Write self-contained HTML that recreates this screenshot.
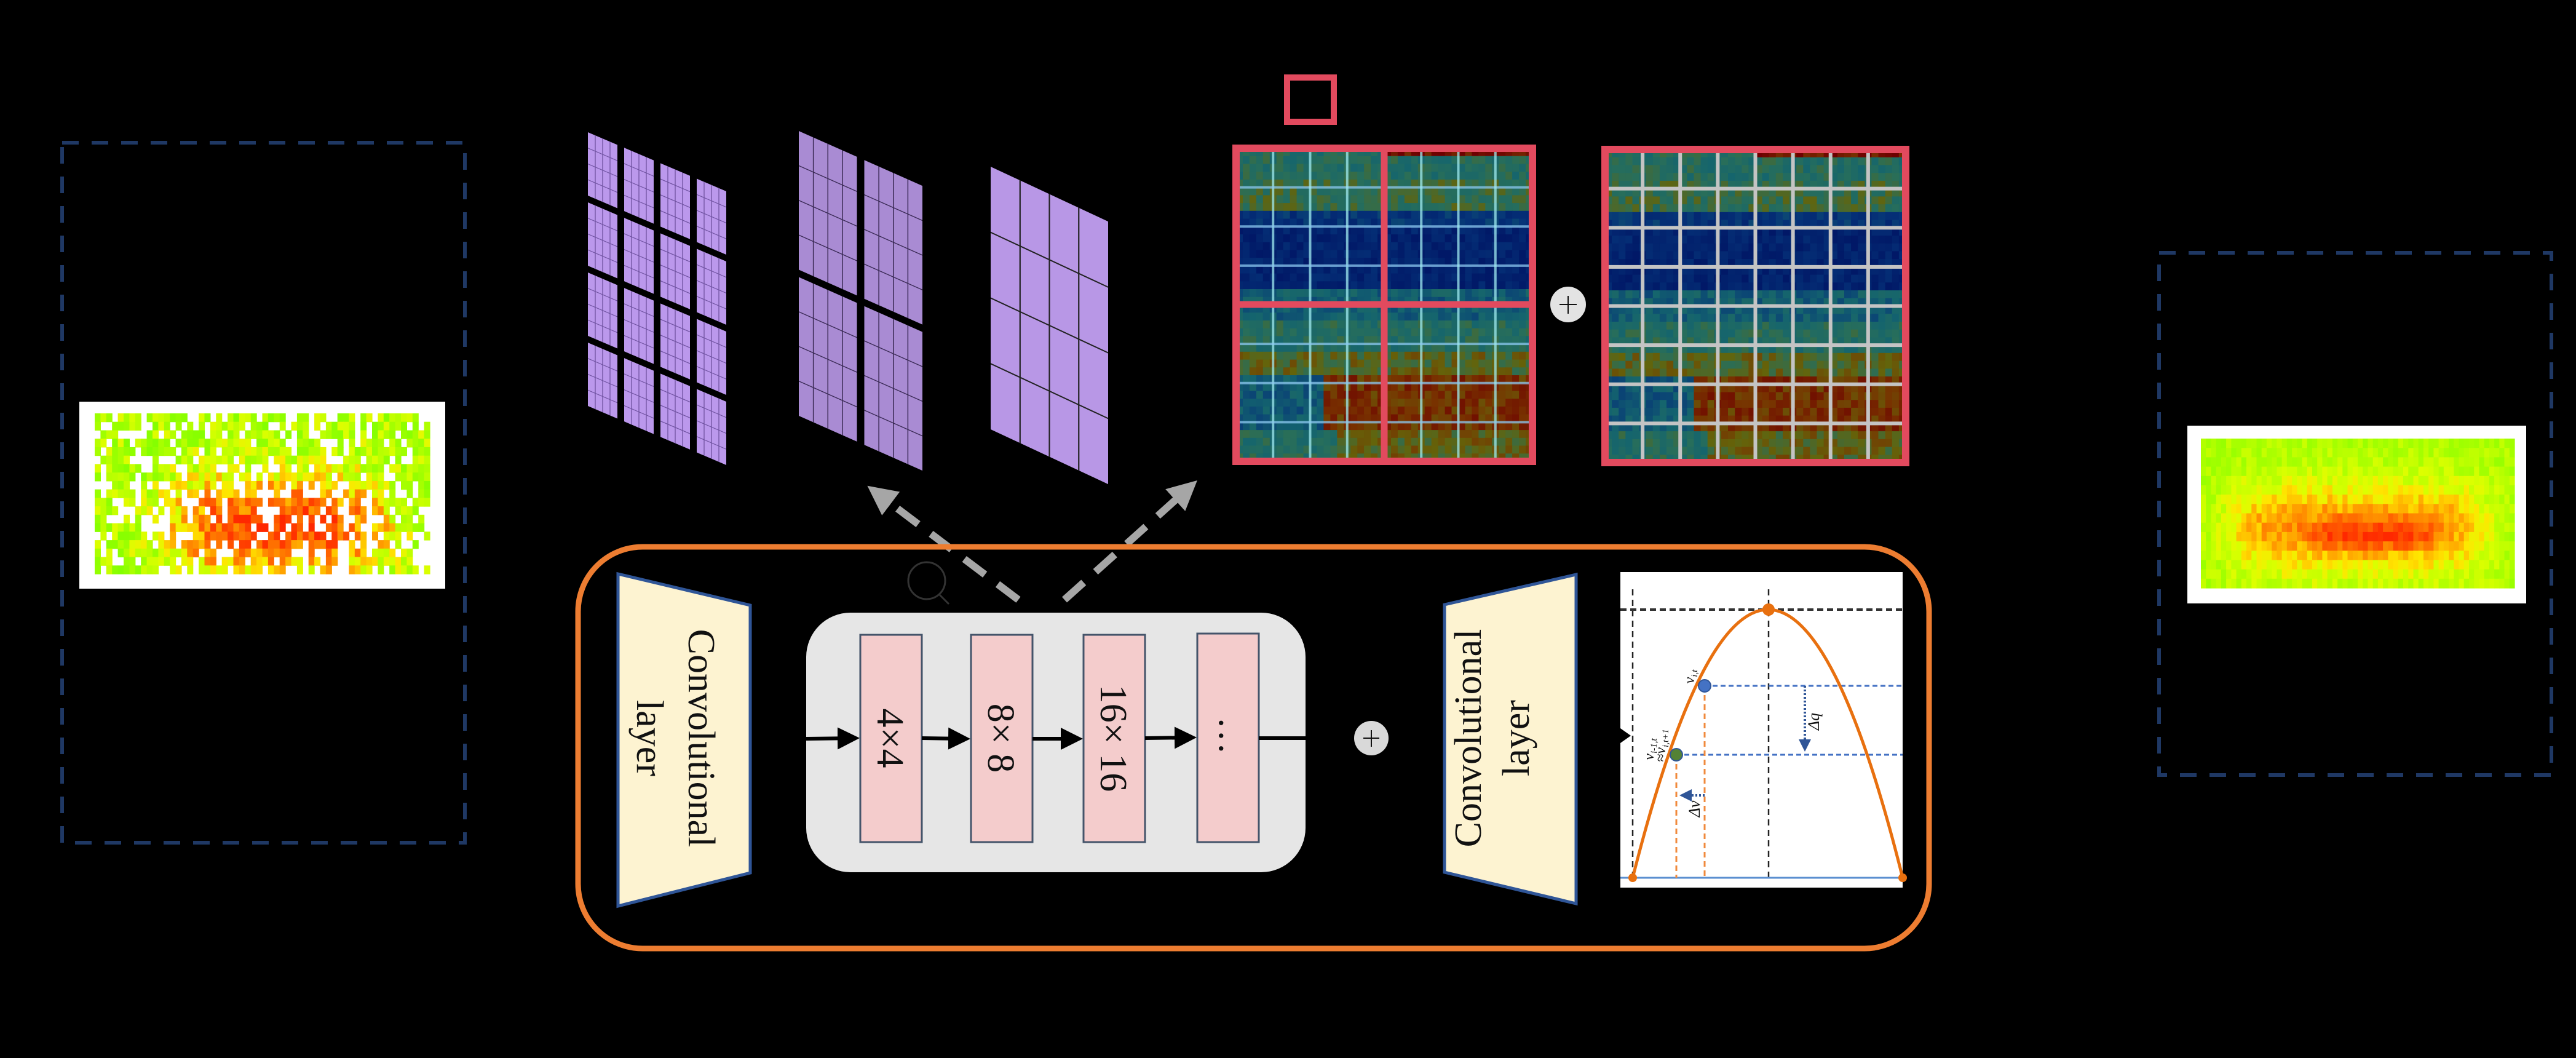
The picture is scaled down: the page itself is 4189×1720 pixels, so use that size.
<!DOCTYPE html>
<html><head><meta charset="utf-8"><style>
html,body{margin:0;padding:0;background:#000;}
svg{display:block;}
text{font-family:"Liberation Serif",serif;}
</style></head><body>
<svg id="s" width="4189" height="1720" viewBox="0 0 4189 1720" xmlns="http://www.w3.org/2000/svg">
<defs>
<marker id="ab" markerWidth="6" markerHeight="6" refX="5" refY="3" orient="auto" markerUnits="strokeWidth"><path d="M0,0 L6,3 L0,6 z" fill="#000"/></marker>
<marker id="ag" markerWidth="4" markerHeight="4" refX="3" refY="2" orient="auto" markerUnits="strokeWidth"><path d="M0,0 L4,2 L0,4 z" fill="#a6a6a6"/></marker>
<marker id="abl" markerWidth="5" markerHeight="5" refX="4" refY="2.5" orient="auto" markerUnits="strokeWidth"><path d="M0,0 L5,2.5 L0,5 z" fill="#2f5597"/></marker>
</defs>
<rect width="4189" height="1720" fill="#000"/>

<rect x="101" y="232" width="655" height="1138" fill="none" stroke="#1f3864" stroke-width="6" stroke-dasharray="27 21"/>
<rect x="3511" y="411" width="638" height="849" fill="none" stroke="#1f3864" stroke-width="6" stroke-dasharray="27 21"/>

<rect x="129" y="653" width="595" height="304" fill="#fff"/>
<g id="hmL"></g>
<rect x="3557" y="692" width="551" height="289" fill="#fff"/>
<g id="hmR"></g>

<g id="fm1" transform="translate(956,215) skewY(23.1)"></g>
<g id="fm2" transform="translate(1299,213) skewY(23.9)"></g>
<g id="fm3" transform="translate(1611,271) skewY(25)"></g>

<rect x="2093" y="126" width="76" height="72" fill="none" stroke="#e24a5e" stroke-width="10"/>

<g id="hmA"></g>
<g id="hmB"></g>
<g id="gridA"></g>
<g id="gridB"></g>
<rect x="2010" y="241" width="482" height="509" fill="none" stroke="#e24a5e" stroke-width="12"/>
<line x1="2251" y1="241" x2="2251" y2="750" stroke="#e24a5e" stroke-width="11"/>
<line x1="2010" y1="495" x2="2492" y2="495" stroke="#e24a5e" stroke-width="11"/>
<rect x="2610" y="243" width="489" height="509" fill="none" stroke="#e24a5e" stroke-width="12"/>
<ellipse cx="2550" cy="495" rx="29" ry="29" fill="#e3e3e3"/>
<line x1="2536" y1="495" x2="2564" y2="495" stroke="#111" stroke-width="2"/>
<line x1="2550" y1="481" x2="2550" y2="510" stroke="#111" stroke-width="2"/>

<line x1="1656" y1="975" x2="1420" y2="797" stroke="#a6a6a6" stroke-width="12" stroke-dasharray="42 26" marker-end="url(#ag)"/>
<line x1="1731" y1="975" x2="1938" y2="789" stroke="#a6a6a6" stroke-width="12" stroke-dasharray="42 26" marker-end="url(#ag)"/>
<circle cx="1507" cy="944" r="30" fill="none" stroke="#333" stroke-width="3"/>
<line x1="1527" y1="966" x2="1543" y2="982" stroke="#333" stroke-width="3"/>

<rect x="940" y="889" width="2197" height="653" rx="105" ry="105" fill="none" stroke="#ed7d31" stroke-width="9"/>

<polygon points="1005,933 1220,984 1220,1419 1005,1473" fill="#fdf3d1" stroke="#2f5597" stroke-width="5"/>
<g transform="translate(1100,1200) rotate(90)" font-size="62" text-anchor="middle" fill="#111">
<text x="0" y="-20">Convolutional</text>
<text x="0" y="64">layer</text>
</g>

<rect x="1311" y="996" width="812" height="422" rx="72" ry="72" fill="#e6e6e6"/>
<g fill="#f4cccc" stroke="#44546a" stroke-width="3">
<rect x="1399" y="1032" width="100" height="337"/>
<rect x="1579" y="1032" width="100" height="337"/>
<rect x="1762" y="1032" width="100" height="337"/>
<rect x="1947" y="1030" width="100" height="339"/>
</g>
<g stroke="#000" stroke-width="6">
<line x1="1311" y1="1201" x2="1392" y2="1200" marker-end="url(#ab)"/>
<line x1="1499" y1="1200" x2="1572" y2="1201" marker-end="url(#ab)"/>
<line x1="1679" y1="1201" x2="1755" y2="1201" marker-end="url(#ab)"/>
<line x1="1862" y1="1200" x2="1940" y2="1199" marker-end="url(#ab)"/>
<line x1="2047" y1="1200" x2="2123" y2="1200"/>
</g>
<g font-size="62" text-anchor="middle" fill="#111">
<text transform="translate(1449,1200) rotate(90)" y="22">4×4</text>
<text transform="translate(1629,1200) rotate(90)" y="22">8× 8</text>
<text transform="translate(1812,1200) rotate(90)" y="22">16× 16</text>
<text transform="translate(1997,1196) rotate(90)" y="14">…</text>
</g>
<ellipse cx="2230" cy="1200" rx="28" ry="28" fill="#d9d9d9"/>
<line x1="2217" y1="1200" x2="2243" y2="1200" stroke="#111" stroke-width="2"/>
<line x1="2230" y1="1187" x2="2230" y2="1214" stroke="#111" stroke-width="2"/>

<polygon points="2349,983 2563,934 2563,1469 2349,1418" fill="#fdf3d1" stroke="#2f5597" stroke-width="5"/>
<g transform="translate(2426,1200) rotate(-90)" font-size="62" text-anchor="middle" fill="#111">
<text x="0" y="-18">Convolutional</text>
<text x="0" y="60">layer</text>
</g>

<rect x="2635" y="930" width="459" height="513" fill="#fff"/>
<polygon points="2635,1184 2652,1196 2635,1208" fill="#000"/>
<g stroke="#222" stroke-width="2.5" stroke-dasharray="10 7" fill="none">
<line x1="2655" y1="958" x2="2655" y2="1427"/>
<line x1="2876" y1="958" x2="2876" y2="1427"/>
</g>
<line x1="2635" y1="991" x2="3094" y2="991" stroke="#333" stroke-width="4" stroke-dasharray="10 6"/>
<line x1="2635" y1="1427" x2="3094" y2="1427" stroke="#5b8fd0" stroke-width="3"/>
<g stroke="#4472c4" stroke-width="3" stroke-dasharray="8 5">
<line x1="2772" y1="1115" x2="3094" y2="1115"/>
<line x1="2726" y1="1227" x2="3094" y2="1227"/>
</g>
<g stroke="#f08a3c" stroke-width="3" stroke-dasharray="9 6">
<line x1="2726" y1="1227" x2="2726" y2="1427"/>
<line x1="2772" y1="1115" x2="2772" y2="1427"/>
</g>
<path d="M2655,1427 Q2876,555 3094,1427" fill="none" stroke="#e8700f" stroke-width="5"/>
<line x1="2935" y1="1115" x2="2935" y2="1218" stroke="#2f5597" stroke-width="4" stroke-dasharray="3 3" marker-end="url(#abl)"/>
<line x1="2772" y1="1293" x2="2735" y2="1293" stroke="#2f5597" stroke-width="4" stroke-dasharray="3 3" marker-end="url(#abl)"/>
<circle cx="2876" cy="991" r="10" fill="#e8700f"/>
<circle cx="2655" cy="1427" r="7" fill="#e8700f"/>
<circle cx="3094" cy="1427" r="7" fill="#e8700f"/>
<circle cx="2772" cy="1115" r="10" fill="#4472c4" stroke="#2f5597" stroke-width="2"/>
<circle cx="2726" cy="1227" r="10" fill="#548235" stroke="#2f5597" stroke-width="2"/>
<g font-size="24" fill="#111" font-style="italic">
<text transform="translate(2755,1100) rotate(-90)" text-anchor="middle">v<tspan font-size="15" dy="5">i,t</tspan></text>
<text transform="translate(2689,1218) rotate(-90)" text-anchor="middle">v<tspan font-size="15" dy="5">i-1,t</tspan></text>
<text transform="translate(2708,1212) rotate(-90)" text-anchor="middle">≈v<tspan font-size="15" dy="5">i,t+1</tspan></text>
<text transform="translate(2958,1173) rotate(-90)" text-anchor="middle" font-size="26">Δq</text>
<text transform="translate(2764,1315) rotate(-90)" text-anchor="middle" font-size="26">Δv</text>
</g>
</svg>
<script>
(function(){
var seed=12345;
function rnd(){seed|=0;seed=seed+0x6D2B79F5|0;var t=Math.imul(seed^seed>>>15,1|seed);t=t+Math.imul(t^t>>>7,61|t)^t;return((t^t>>>14)>>>0)/4294967296;}
function lerp(a,b,t){return a+(b-a)*t;}
function cmap(stops,v){v=Math.max(0,Math.min(1,v));for(var i=1;i<stops.length;i++){if(v<=stops[i][0]){var a=stops[i-1],b=stops[i];var t=(v-a[0])/(b[0]-a[0]);return "rgb("+Math.round(lerp(a[1],b[1],t))+","+Math.round(lerp(a[2],b[2],t))+","+Math.round(lerp(a[3],b[3],t))+")";}}var l=stops[stops.length-1];return "rgb("+l[1]+","+l[2]+","+l[3]+")";}
var gy=[[0,102,255,0],[0.3,170,255,0],[0.45,220,255,0],[0.55,255,230,0],[0.7,255,150,0],[0.85,255,90,0],[1,255,40,0]];
var jet=[[0,0,20,100],[0.25,5,50,120],[0.45,20,100,110],[0.6,40,110,90],[0.72,100,100,10],[0.85,120,50,0],[1,110,0,0]];
function fieldL(x,y){
  var b=Math.exp(-Math.pow((x-0.55)/0.33,4)-Math.pow((y-0.7)/0.3,2));
  return 0.3+0.6*b;
}
function fieldR(x,y){
  var b=Math.exp(-Math.pow((x-0.5)/0.42,6)-Math.pow((y-0.6)/0.3,2));
  var c=Math.exp(-Math.pow((x-0.55)/0.2,4)-Math.pow((y-0.65)/0.1,2));
  return 0.3+0.42*b+0.25*c;
}
function heat(id,f,x0,y0,w,h,cols,rows,holes,noise){
  var g=document.getElementById(id),s="";var cw=w/cols,ch=h/rows;
  for(var r=0;r<rows;r++)for(var c=0;c<cols;c++){
    if(rnd()<holes)continue;
    var v=f((c+0.5)/cols,(r+0.5)/rows)+(rnd()-0.5)*noise;
    s+='<rect x="'+(x0+c*cw).toFixed(1)+'" y="'+(y0+r*ch).toFixed(1)+'" width="'+(cw+0.6).toFixed(1)+'" height="'+(ch+0.6).toFixed(1)+'" fill="'+cmap(gy,v)+'"/>';
  }
  g.innerHTML=s;
}
heat("hmL",fieldL,154,672,545,261,58,19,0.3,0.35);
heat("hmR",fieldR,3579,713,510,243,62,16,0,0.18);
function jfield(x,y){
  var v;
  if(y<0.1)v=0.55+(x>0.5&&y<0.03?0.4:0);
  else if(y<0.2)v=0.62;
  else if(y<0.45)v=0.12+0.12*(y<0.25?1:0);
  else if(y<0.55)v=0.42;
  else if(y<0.65)v=0.55;
  else if(y<0.72)v=0.7;
  else if(y<0.9)v=(x>0.3?0.86:0.4);
  else v=(x>0.35?0.72:0.55);
  return v;
}
function jheat(id,x0,y0,w,h,cols,rows){
  var g=document.getElementById(id),s="";var cw=w/cols,ch=h/rows;
  for(var r=0;r<rows;r++)for(var c=0;c<cols;c++){
    var v=jfield((c+0.5)/cols,(r+0.5)/rows)+(rnd()-0.5)*0.18;
    s+='<rect x="'+(x0+c*cw).toFixed(1)+'" y="'+(y0+r*ch).toFixed(1)+'" width="'+(cw+0.6).toFixed(1)+'" height="'+(ch+0.6).toFixed(1)+'" fill="'+cmap(jet,v)+'"/>';
  }
  g.innerHTML=s;
}
jheat("hmA",2010,241,482,509,44,40);
seed=12345;
jheat("hmB",2610,243,489,509,44,40);
var s="";
for(var i=1;i<8;i++){if(i==4)continue;
 var x=2010+i*482/8,y=241+i*509/8;
 s+='<line x1="'+x+'" y1="241" x2="'+x+'" y2="750" stroke="rgba(160,235,240,0.75)" stroke-width="4"/>';
 s+='<line x1="2010" y1="'+y+'" x2="2492" y2="'+y+'" stroke="rgba(140,200,240,0.75)" stroke-width="4"/>';}
document.getElementById("gridA").innerHTML=s;
s="";
for(var i=1;i<8;i++){
 var x=2610+i*489/8,y=243+i*509/8;
 s+='<line x1="'+x+'" y1="243" x2="'+x+'" y2="752" stroke="#c4c4c4" stroke-width="6"/>';
 s+='<line x1="2610" y1="'+y+'" x2="3099" y2="'+y+'" stroke="#c4c4c4" stroke-width="6"/>';}
document.getElementById("gridB").innerHTML=s;
function fm(id,W,H,n,gap,sub,fill,stroke,sw){
  var g=document.getElementById(id),s="";
  var pw=(W-(n-1)*gap)/n,ph=(H-(n-1)*gap)/n;
  for(var i=0;i<n;i++)for(var j=0;j<n;j++){
    var x=i*(pw+gap),y=j*(ph+gap);
    s+='<rect x="'+x+'" y="'+y+'" width="'+pw+'" height="'+ph+'" fill="'+fill+'"/>';
    for(var k=1;k<sub;k++){
      s+='<line x1="'+(x+k*pw/sub)+'" y1="'+y+'" x2="'+(x+k*pw/sub)+'" y2="'+(y+ph)+'" stroke="'+stroke+'" stroke-width="'+sw+'"/>';
      s+='<line x1="'+x+'" y1="'+(y+k*ph/sub)+'" x2="'+(x+pw)+'" y2="'+(y+k*ph/sub)+'" stroke="'+stroke+'" stroke-width="'+sw+'"/>';
    }
  }
  g.innerHTML=s;
}
fm("fm1",225,445,4,11,4,"#bb98ec","#6f52a0",1.3);
fm("fm2",201,463,2,12,4,"#a98bd3","#3a2a55",1.5);
fm("fm3",191,427,1,0,4,"#b897e6","#222",2.2);
})();
</script>
</body></html>
